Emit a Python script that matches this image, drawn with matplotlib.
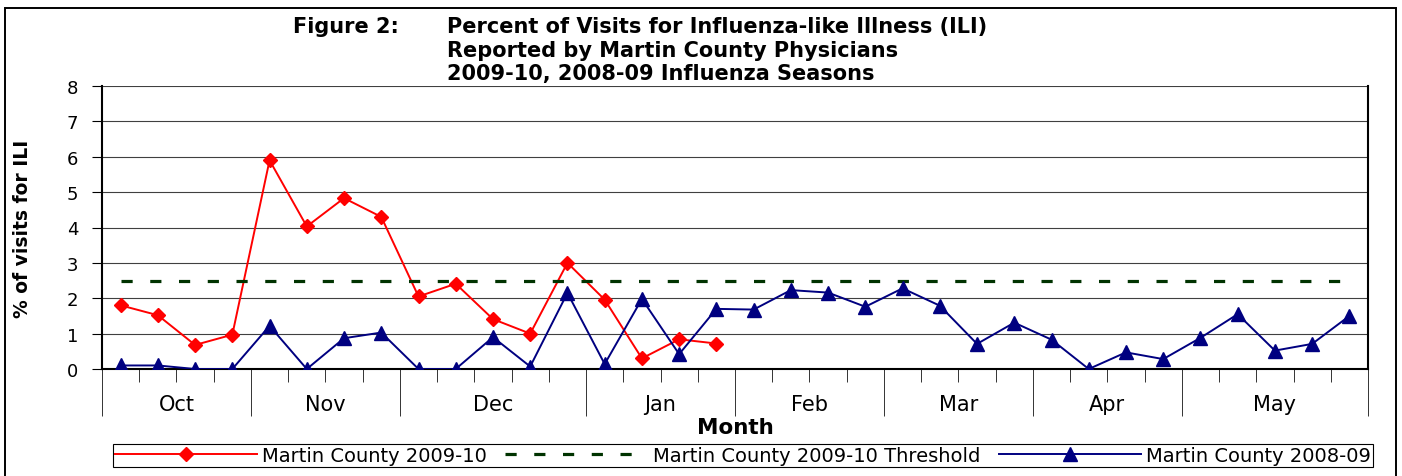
"""
Figure 2: percent of visits for influenza-like illness (ILI), Martin County.
Weekly values, 2009-10 season vs 2008-09 season, with the 2009-10 threshold.
"""

import matplotlib.pyplot as plt
from matplotlib.patches import Rectangle
import numpy as np

# ── Data ──────────────────────────────────────────────────────────────────────
MONTHS          = ["Oct", "Nov", "Dec", "Jan", "Feb", "Mar", "Apr", "May"]
WEEKS_PER_MONTH = [4, 4, 5, 4, 4, 4, 4, 5]

ILI_2009_10 = [1.80, 1.52, 0.68, 0.97, 5.90, 4.03, 4.83, 4.30, 2.05, 2.41,
               1.41, 1.00, 3.00, 1.96, 0.30, 0.84, 0.72]
ILI_2008_09 = [0.10, 0.10, 0.00, 0.00, 1.22, 0.00, 0.87, 1.03, 0.00, 0.00,
               0.90, 0.07, 2.15, 0.14, 1.98, 0.42, 1.70, 1.68, 2.23, 2.16,
               1.76, 2.28, 1.79, 0.71, 1.31, 0.83, 0.00, 0.47, 0.28, 0.88,
               1.55, 0.52, 0.71, 1.50]
THRESHOLD_2009_10 = 2.5

LABEL_2009_10   = "Martin County 2009-10"
LABEL_THRESHOLD = "Martin County 2009-10 Threshold"
LABEL_2008_09   = "Martin County 2008-09"

n_weeks = sum(WEEKS_PER_MONTH)
bounds  = np.concatenate([[0], np.cumsum(WEEKS_PER_MONTH)]) - 0.5
centers = (bounds[:-1] + bounds[1:]) / 2

# ── Figure ────────────────────────────────────────────────────────────────────
W, H = 1402, 477
fig = plt.figure(figsize=(W / 100, H / 100), dpi=100)
ax = fig.add_axes([102 / W, 1 - 370 / H, 1266 / W, 283 / H])

# outer border (bottom edge runs off the image)
fig.add_artist(Rectangle((5 / W, -0.05), 1391 / W, 1.05 - 9 / H,
                         transform=fig.transFigure, fill=False,
                         edgecolor="black", lw=1.4, clip_on=False))

x_red  = np.arange(len(ILI_2009_10))
x_blue = np.arange(len(ILI_2008_09))

ax.plot(x_red, ILI_2009_10, color="#FF0000", lw=1.4, marker="D", ms=7.5,
        label=LABEL_2009_10, zorder=3)
ax.plot(x_blue, [THRESHOLD_2009_10] * n_weeks, color="#003300", lw=2.3,
        linestyle=(0, (3.5, 5.5)), label=LABEL_THRESHOLD, zorder=3)
ax.plot(x_blue, ILI_2008_09, color="#000080", lw=1.4, marker="^", ms=10,
        label=LABEL_2008_09, zorder=4)

# ── Axes ──────────────────────────────────────────────────────────────────────
ax.set_xlim(-0.5, n_weeks - 0.5)
ax.set_ylim(0, 8)
ax.set_yticks(range(0, 9))
ax.yaxis.grid(True, color="#404040", lw=0.8)
ax.set_axisbelow(True)
ax.tick_params(axis="y", direction="out", length=7, width=0.8,
               labelsize=13, pad=10)

ax.set_xticks(bounds)
ax.set_xticks(np.arange(1, n_weeks) - 0.5, minor=True)
ax.tick_params(axis="x", which="major", length=34, width=0.7,
               color="#333333", labelbottom=False)
ax.tick_params(axis="x", which="minor", length=9, width=0.7,
               color="#333333", labelbottom=False)

for side in ["left", "bottom", "right"]:
    ax.spines[side].set_linewidth(1.5)
ax.spines["top"].set_visible(False)

for c, m in zip(centers, MONTHS):
    ax.text(c, -0.125, m, transform=ax.get_xaxis_transform(),
            ha="center", va="center", fontsize=15)

ax.text(0.5, -0.205, "Month", transform=ax.transAxes, ha="center",
        va="center", fontsize=15.5, fontweight="bold")
ax.set_ylabel("% of visits for ILI", fontsize=13.5, fontweight="bold")
ax.yaxis.set_label_coords(-0.055, 0.5)

# ── Title ─────────────────────────────────────────────────────────────────────
fig.text(293 / W, 1 - 33 / H, "Figure 2:", fontsize=15, fontweight="bold",
         ha="left", va="baseline")
title_lines = ["Percent of Visits for Influenza-like Illness (ILI)",
               "Reported by Martin County Physicians",
               "2009-10, 2008-09 Influenza Seasons"]
for line, base in zip(title_lines, [33, 57, 80]):
    fig.text(447 / W, 1 - base / H, line, fontsize=15, fontweight="bold",
             ha="left", va="baseline")

# ── Legend ────────────────────────────────────────────────────────────────────
leg = fig.legend(loc="center", ncol=3, mode="expand",
                 bbox_to_anchor=(103 / W, 1 - 470 / H, 1280 / W, 27 / H),
                 fontsize=14, handlelength=7.3, handletextpad=0.3,
                 columnspacing=0.5, borderpad=0.1, fancybox=False,
                 framealpha=1, edgecolor="black")
leg.get_frame().set_linewidth(0.8)

fig.savefig("out.png", dpi=100)
plt.close(fig)
